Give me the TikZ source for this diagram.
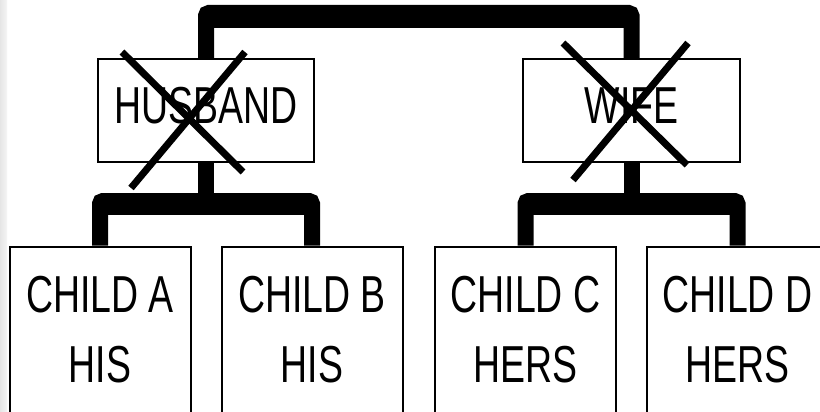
\documentclass[tikz,border=0pt]{standalone}
\usepackage{fontspec}
\newfontfamily\narrowsans{Liberation Sans}[FakeStretch=0.72]
\begin{document}
\begin{tikzpicture}[x=1pt,y=-1pt,
  box/.style={draw, line width=2pt, inner sep=0pt, font=\narrowsans\fontsize{52}{70}\selectfont},
  parentbox/.style={box, minimum width=216pt, minimum height=103pt, text height=35pt, text depth=10pt},
  childbox/.style={box, minimum width=181pt, minimum height=167pt, align=center},
  link/.style={line width=16pt, rounded corners=3pt},
  thickstrip/.style={line width=7pt},
  crossline/.style={line width=7pt}]
\useasboundingbox (0,0) rectangle (820,412);
\clip (0,0) rectangle (820,412);
\fill[white] (0,0) rectangle (820,412);
\shade[left color=gray!20, right color=gray!8] (0,0) rectangle (7,412);

\coordinate (toprow) at (0,13);
\coordinate (topthick) at (0,24.5);
\coordinate (lowrow) at (0,201);
\coordinate (lowthick) at (0,212);

\node[parentbox] (hus) at (206,110.5) {HUSBAND};
\node[parentbox, minimum width=217pt] (wife) at (631.5,110.5) {WIFE};
\node[childbox] (ca) at (100,330) {CHILD A\\HIS};
\node[childbox] (cb) at (312,330) {CHILD B\\HIS};
\node[childbox] (cc) at (525.5,330) {CHILD C\\HERS};
\node[childbox] (cd) at (737.5,330) {CHILD D\\HERS};

\draw[link] (hus.north) |- (toprow -| wife.north) -- (wife.north);
\draw[thickstrip] (hus.north |- topthick) -- (wife.north |- topthick);

\draw[link] (hus.south) -- (hus.south |- lowrow);
\draw[link] (ca.north) |- (lowrow -| cb.north) -- (cb.north);
\draw[line width=6pt] (ca.north |- lowthick) -- (cb.north |- lowthick);

\draw[link] (wife.south) -- (wife.south |- lowrow);
\draw[link] (cc.north) |- (lowrow -| cd.north) -- (cd.north);
\draw[line width=6pt] (cc.north |- lowthick) -- (cd.north |- lowthick);

\draw[crossline] (122,52) -- (243,172);
\draw[crossline] (245,52) -- (131,188);
\draw[crossline] (563,43) -- (687,165);
\draw[crossline] (688,43) -- (573,180);
\end{tikzpicture}
\end{document}
